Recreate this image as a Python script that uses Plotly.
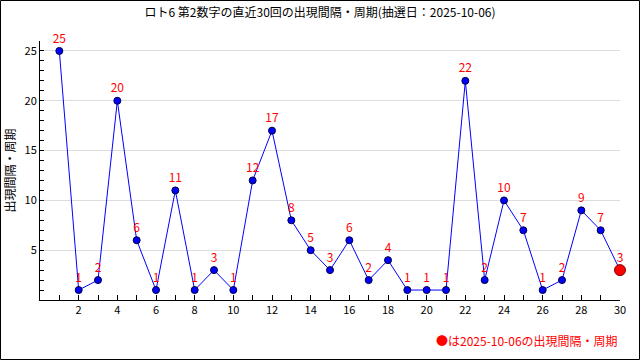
import plotly.graph_objects as go

draws = list(range(1, 31))
intervals = [25, 1, 2, 20, 6, 1, 11, 1, 3, 1, 12, 17, 8, 5, 3, 6, 2, 4, 1, 1, 1, 22, 2, 10, 7, 1, 2, 9, 7, 3]
title = "ロト6 第2数字の直近30回の出現間隔・周期(抽選日：2025-10-06)"
y_title = "出現間隔・周期"
legend_note = "●は2025-10-06の出現間隔・周期"
x_ticks = list(range(2, 31, 2))
y_ticks = [5, 10, 15, 20, 25]

font_family = "Noto Sans CJK JP, DejaVu Sans, sans-serif"

fig = go.Figure()
fig.add_trace(go.Scatter(
    x=draws, y=intervals, mode="lines+markers+text",
    line=dict(color="#0000ff", width=1),
    marker=dict(color="#0000ff", size=7, line=dict(color="#000040", width=1)),
    text=[str(v) for v in intervals], textposition="top center",
    textfont=dict(color="#ff0000", size=12, family=font_family),
    cliponaxis=False, hoverinfo="x+y",
))
fig.add_trace(go.Scatter(
    x=[draws[-1]], y=[intervals[-1]], mode="markers",
    marker=dict(color="#ff0000", size=11, line=dict(color="#800000", width=1)),
    cliponaxis=False, hoverinfo="x+y",
))

fig.update_layout(
    width=640, height=360,
    margin=dict(l=40, r=20, t=41, b=60, autoexpand=False),
    paper_bgcolor="white", plot_bgcolor="white",
    showlegend=False,
    font=dict(family=font_family, size=11, color="black"),
    title=dict(text=title, x=0.5, xanchor="center", y=0.975, yanchor="top",
               font=dict(size=12, color="black", family=font_family)),
    shapes=[dict(type="rect", xref="paper", yref="paper", x0=-39.5/580, x1=1+19.5/580,
                 y0=-59.5/259, y1=1+40.5/259, line=dict(color="black", width=1))],
    annotations=[dict(text=legend_note, xref="paper", yref="paper", x=1, y=-40/259,
                      xanchor="right", yanchor="middle", showarrow=False,
                      font=dict(color="#ff0000", size=12, family=font_family))],
)
fig.update_xaxes(
    range=[0, 30], tickmode="array", tickvals=x_ticks,
    showgrid=False, zeroline=False, automargin=False,
    showline=True, linecolor="black", linewidth=1,
    ticks="inside", ticklen=5, tickcolor="black",
    minor=dict(ticks="inside", dtick=1, tick0=0, ticklen=5, tickcolor="black"),
)
fig.update_yaxes(
    range=[0, 26], tickmode="array", tickvals=y_ticks,
    showgrid=True, gridcolor="#dddddd", gridwidth=1, zeroline=False, automargin=False,
    showline=True, linecolor="black", linewidth=1,
    ticks="inside", ticklen=4, tickcolor="black",
    minor=dict(ticks="inside", dtick=1, tick0=0, ticklen=4, tickcolor="black", showgrid=False),
    title=dict(text=y_title, standoff=6, font=dict(size=12)),
)

fig.write_html("out.html", config={"displayModeBar": False},
               post_script="document.body.style.margin='0';")
